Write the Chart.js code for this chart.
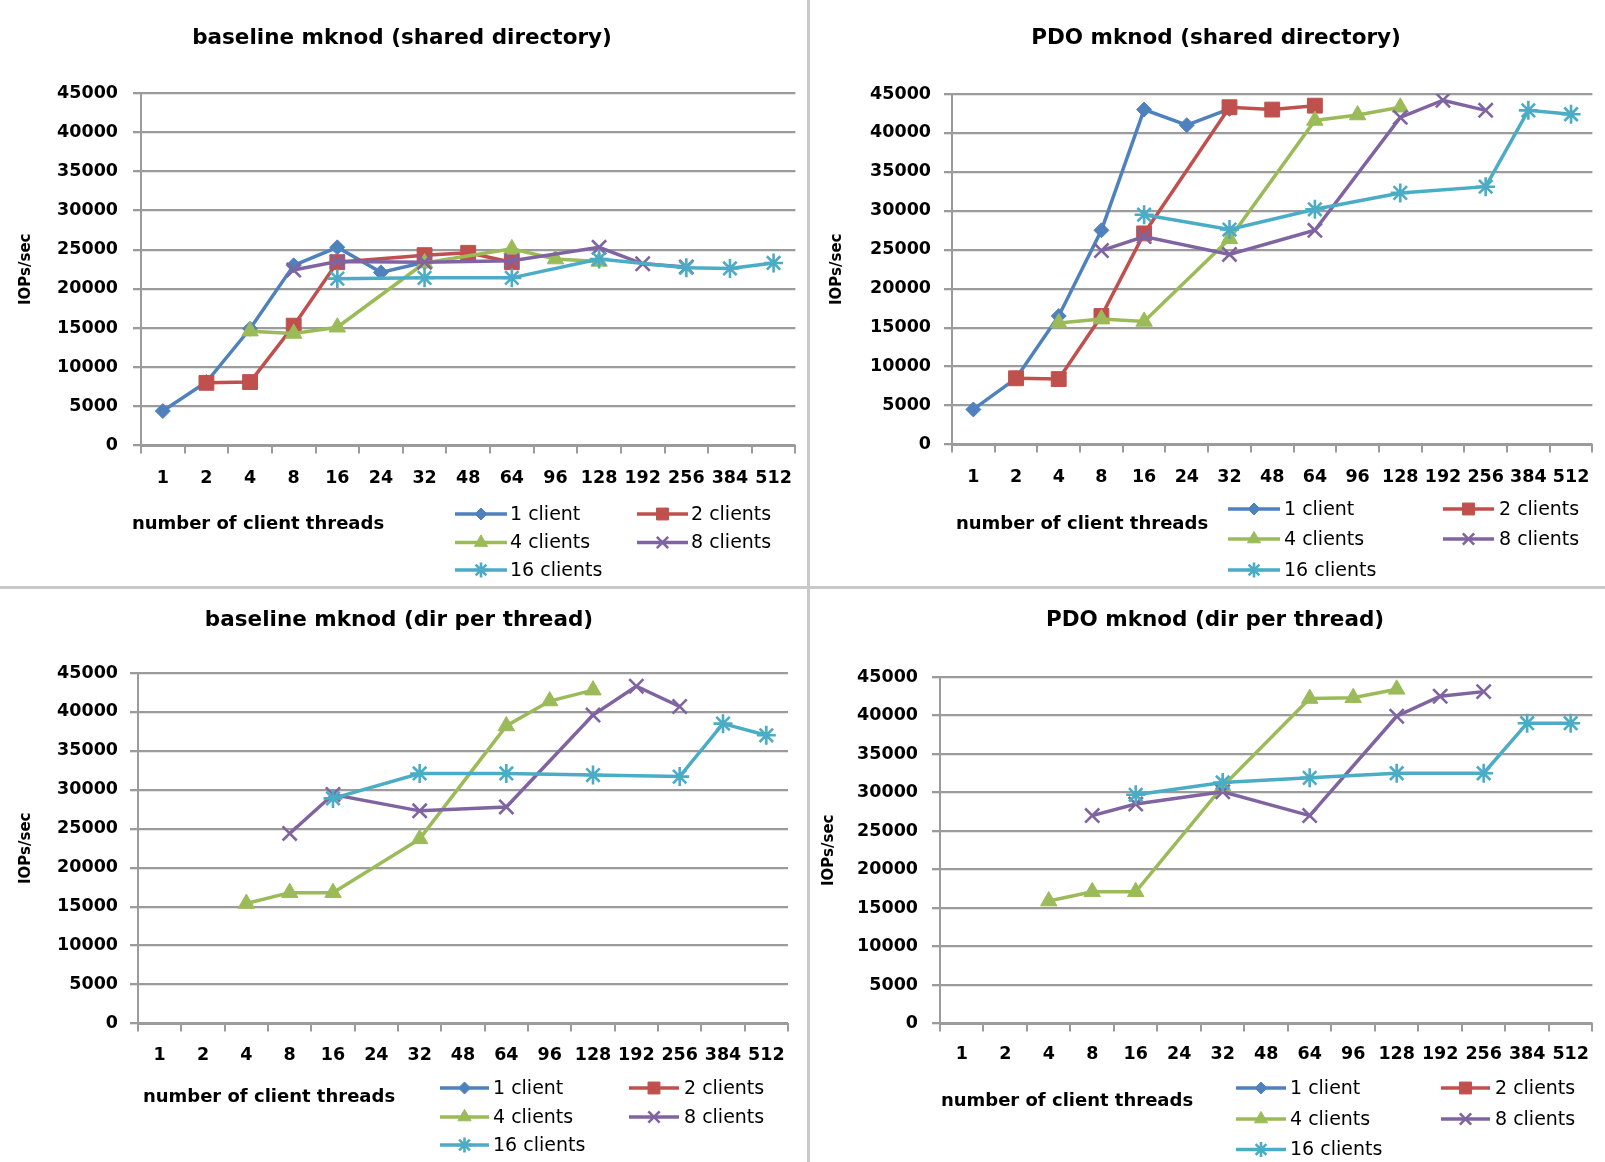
<!DOCTYPE html>
<html><head><meta charset="utf-8">
<script src="https://cdn.jsdelivr.net/npm/chart.js@4.4.1/dist/chart.umd.min.js"></script>
<style>
html,body{margin:0;padding:0;background:#fff;}
body{width:1605px;height:1162px;position:relative;overflow:hidden;}
.q{position:absolute;}
.q canvas{display:block;}
.sep{position:absolute;background:#c9c9c9;}
</style></head><body>
<div class="q" style="left:0px;top:0px;width:808px;height:588px"><canvas id="c1"></canvas></div>
<div class="q" style="left:811px;top:0px;width:794px;height:588px"><canvas id="c2"></canvas></div>
<div class="q" style="left:0px;top:591px;width:808px;height:571px"><canvas id="c3"></canvas></div>
<div class="q" style="left:811px;top:591px;width:794px;height:571px"><canvas id="c4"></canvas></div>
<div class="sep" style="left:807px;top:0;width:3px;height:1162px"></div>
<div class="sep" style="left:0;top:586px;width:1605px;height:3px"></div>
<script>
// ---------- data ----------
const threads = ['1','2','4','8','16','24','32','48','64','96','128','192','256','384','512'];
const seriesLabels = ['1 client','2 clients','4 clients','8 clients','16 clients'];
const panelTitles = ['baseline mknod (shared directory)','PDO mknod (shared directory)','baseline mknod (dir per thread)','PDO mknod (dir per thread)'];
const xAxisTitle = 'number of client threads';
const yAxisTitle = 'IOPs/sec';

// baseline mknod (shared directory)
const baseShared1  = [4400, 8100, 14900, 23000, 25300, 22100, 23400, null, null, null, null, null, null, null, null];
const baseShared2  = [null, 8000, 8100, 15300, 23400, null, 24300, 24600, 23400, null, null, null, null, null, null];
const baseShared4  = [null, null, 14600, 14300, 15100, null, 23300, null, 25100, 23800, 23500, null, null, null, null];
const baseShared8  = [null, null, null, 22400, 23500, null, 23400, null, 23600, null, 25300, 23200, 22800, null, null];
const baseShared16 = [null, null, null, null, 21300, null, 21400, null, 21400, null, 23800, null, 22700, 22600, 23300];

// PDO mknod (shared directory)
const pdoShared1  = [4500, 8500, 16500, 27500, 43000, 41000, 43100, null, null, null, null, null, null, null, null];
const pdoShared2  = [null, 8500, 8400, 16500, 27100, null, 43300, 43000, 43500, null, null, null, null, null, null];
const pdoShared4  = [null, null, 15600, 16100, 15800, null, 26400, null, 41600, 42300, 43300, null, null, null, null];
const pdoShared8  = [null, null, null, 24900, 26700, null, 24400, null, 27500, null, 42000, 44200, 42900, null, null];
const pdoShared16 = [null, null, null, null, 29500, null, 27600, null, 30200, null, 32300, null, 33100, 42900, 42400];

// baseline mknod (dir per thread)
const baseDir1  = [];
const baseDir2  = [];
const baseDir4  = [null, null, 15400, 16800, 16800, null, 23700, null, 38200, 41400, 42800, null, null, null, null];
const baseDir8  = [null, null, null, 24400, 29400, null, 27300, null, 27800, null, 39600, 43300, 40700, null, null];
const baseDir16 = [null, null, null, null, 28900, null, 32100, null, 32100, null, 31900, null, 31700, 38500, 37000];

// PDO mknod (dir per thread)
const pdoDir1  = [];
const pdoDir2  = [];
const pdoDir4  = [null, null, 15900, 17100, 17100, null, 30800, null, 42200, 42300, 43400, null, null, null, null];
const pdoDir8  = [null, null, null, 27000, 28500, null, 30100, null, 27000, null, 39900, 42500, 43100, null, null];
const pdoDir16 = [null, null, null, null, 29700, null, 31300, null, 31900, null, 32500, null, 32500, 39000, 39000];

// ---------- styles ----------
const seriesColors  = ['#4F81BD','#C0504D','#9BBB59','#8064A2','#4BACC6'];
const seriesMarkers = ['rectRot','rect','triangle','crossRot','star'];
const markerRadius  = [7.5, 10.5, 9.5, 10, 9.5];
const FONT = '"DejaVu Sans"';
const gridColor = '#9b9b9b';

const sideLegend = {
  id: 'sideLegend',
  afterDraw(chart, args, o) {
    const ctx = chart.ctx;
    ctx.save();
    ctx.fillStyle = '#000';
    ctx.font = 'bold ' + o.axisFont + 'px ' + FONT;
    ctx.textAlign = 'center';
    ctx.textBaseline = 'middle';
    ctx.fillText(xAxisTitle, o.axisX, o.axisY);
    ctx.font = o.legendFont + 'px ' + FONT;
    ctx.textAlign = 'left';
    chart.data.datasets.forEach((ds, i) => {
      const y = o.rows[Math.floor(i / 2)];
      const c = o.cols[i % 2];
      ctx.strokeStyle = ds.borderColor;
      ctx.lineWidth = 3.5;
      ctx.beginPath(); ctx.moveTo(c[0], y); ctx.lineTo(c[1], y); ctx.stroke();
      ctx.fillStyle = ds.borderColor;
      ctx.lineWidth = ds.pointBorderWidth;
      Chart.helpers.drawPoint(ctx, {pointStyle: ds.pointStyle, rotation: 0, radius: ds.pointRadius * 0.8, borderWidth: ds.pointBorderWidth}, (c[0] + c[1]) / 2, y);
      ctx.fillStyle = '#000';
      ctx.fillText(ds.label, c[2], y + 1);
    });
    ctx.restore();
  }
};

function makeDatasets(arrs) {
  return arrs.map((d, i) => ({
    label: seriesLabels[i],
    data: d,
    borderColor: seriesColors[i],
    backgroundColor: seriesColors[i],
    pointBackgroundColor: seriesColors[i],
    pointBorderColor: seriesColors[i],
    pointStyle: seriesMarkers[i],
    pointRadius: markerRadius[i],
    pointBorderWidth: (i >= 3) ? 2.6 : 1,
    borderWidth: 3.5,
    spanGaps: true,
    tension: 0,
    order: 4 - i
  }));
}

function makeChart(id, title, arrs, L) {
  return new Chart(document.getElementById(id), {
    type: 'line',
    data: { labels: threads, datasets: makeDatasets(arrs) },
    plugins: [sideLegend],
    options: {
      responsive: true, maintainAspectRatio: false, animation: false,
      layout: { padding: { left: L.pl, right: L.pr, top: 0, bottom: 0 } },
      plugins: {
        legend: { display: false },
        tooltip: { enabled: false },
        title: { display: true, text: title, color: '#000',
                 font: { family: FONT, size: 21.5, weight: 'bold', lineHeight: 1.2 },
                 padding: { top: L.tt, bottom: L.tb } },
        sideLegend: L.leg
      },
      scales: {
        x: {
          type: 'category', offset: true,
          grid: { display: true, drawOnChartArea: false, drawTicks: true, tickLength: 8, color: gridColor, lineWidth: 2, offset: true },
          border: { display: true, color: gridColor, width: 2 },
          ticks: { color: '#000', font: { family: FONT, size: 17.5, weight: 'bold', lineHeight: 1.2 }, padding: L.xp, maxRotation: 0, autoSkip: false },
          afterFit: s => { s.height = L.xh; }
        },
        y: {
          min: 0, max: 45000,
          ticks: { stepSize: 5000, color: '#000', font: { family: FONT, size: 17.5, weight: 'bold' }, padding: L.yp,
                   callback: v => String(v) },
          grid: { color: gridColor, lineWidth: 2.3, tickLength: 8 },
          border: { display: true, color: gridColor, width: 2 },
          title: { display: true, text: yAxisTitle, color: '#000', font: { family: FONT, size: 15, weight: 'bold', lineHeight: 1.2 }, padding: { top: L.ytp, bottom: 0 } },
          afterFit: s => { s.width = L.yw; }
        }
      }
    }
  });
}

makeChart('c1', panelTitles[0], [baseShared1, baseShared2, baseShared4, baseShared8, baseShared16],
  { pl: 7, pr: 11, yw: 134, ytp: 10, tt: 25.1, tb: 42.1, xh: 142.5, xp: 14, yp: 15,
    leg: { axisX: 258, axisY: 524, axisFont: 18, legendFont: 19, rows: [514, 542.5, 570], cols: [[455, 507, 510], [637, 688, 691]] } });
makeChart('c2', panelTitles[1], [pdoShared1, pdoShared2, pdoShared4, pdoShared8, pdoShared16],
  { pl: 19, pr: 3, yw: 122, ytp: -2, tt: 25.1, tb: 43.1, xh: 143.5, xp: 14, yp: 13,
    leg: { axisX: 271, axisY: 524, axisFont: 18, legendFont: 19, rows: [509, 539, 570], cols: [[417, 469, 473], [632, 683, 688]] } });
makeChart('c3', panelTitles[2], [baseDir1, baseDir2, baseDir4, baseDir8, baseDir16],
  { pl: 10, pr: 20, yw: 128, ytp: 7, tt: 16.1, tb: 40.1, xh: 138.5, xp: 13, yp: 12,
    leg: { axisX: 269, axisY: 506, axisFont: 18, legendFont: 19, rows: [497, 526, 554], cols: [[440, 489, 493], [629, 679, 684]] } });
makeChart('c4', panelTitles[3], [pdoDir1, pdoDir2, pdoDir4, pdoDir8, pdoDir16],
  { pl: 17, pr: 3, yw: 112, ytp: -8, tt: 16.1, tb: 44.1, xh: 138.5, xp: 12, yp: 14,
    leg: { axisX: 256, axisY: 510, axisFont: 18, legendFont: 19, rows: [497, 528, 558.5], cols: [[425, 475, 479], [630, 679, 684]] } });
</script>
</body></html>
